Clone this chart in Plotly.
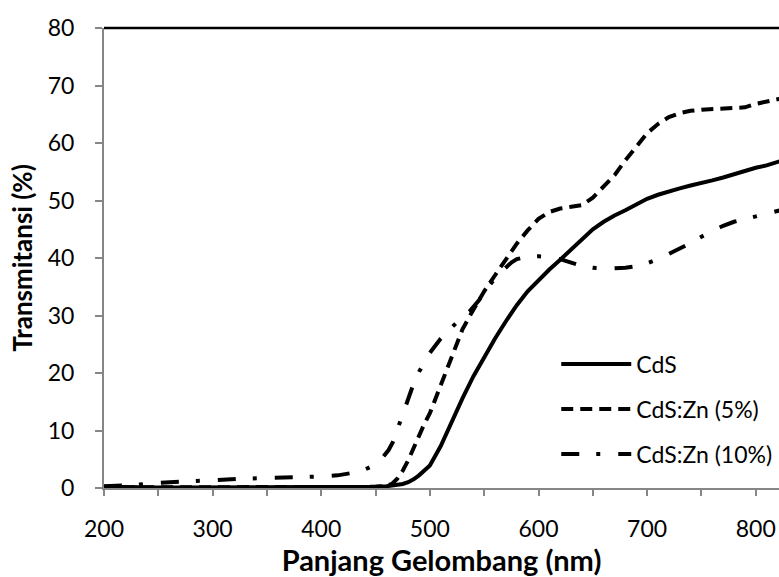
import plotly.graph_objects as go

# ---- data ----
wl_cds = [200, 225, 250, 275, 300, 325, 350, 375, 400, 425, 440, 450, 460, 465, 470, 475, 480, 485, 490, 495,
          500, 510, 520, 530, 540, 550, 560, 570, 580, 590, 600, 610, 620, 630, 640, 650, 660, 670, 680, 690,
          700, 710, 720, 730, 740, 750, 760, 770, 780, 790, 800, 810, 820, 825]
t_cds = [0.2, 0.1, 0.1, 0.1, 0.1, 0.1, 0.1, 0.1, 0.1, 0.1, 0.1, 0.2, 0.3, 0.4, 0.5, 0.7, 1.0, 1.5, 2.2, 3.0,
         3.9, 7.3, 11.6, 15.6, 19.4, 22.8, 26.0, 29.0, 31.8, 34.2, 36.2, 38.0, 39.7, 41.5, 43.3, 45.0, 46.3, 47.4, 48.3, 49.3,
         50.3, 51.0, 51.6, 52.1, 52.6, 53.0, 53.5, 54.0, 54.6, 55.1, 55.7, 56.1, 56.7, 57.0]

wl_zn5 = [200, 225, 250, 275, 300, 325, 350, 375, 400, 425, 440, 450, 460, 465, 470, 475, 480, 485, 490, 495,
          500, 510, 520, 530, 540, 550, 560, 570, 580, 590, 600, 610, 620, 630, 640, 650, 660, 670, 680, 690,
          700, 710, 720, 730, 740, 750, 760, 770, 780, 790, 800, 810, 820, 825]
t_zn5 = [0.1, 0.1, 0.1, 0.1, 0.1, 0.1, 0.1, 0.1, 0.1, 0.1, 0.1, 0.2, 0.4, 0.7, 1.6, 3.0, 4.8, 7.0, 9.2, 11.2,
         13.0, 17.8, 23.0, 27.6, 31.0, 34.2, 37.0, 39.8, 42.5, 44.8, 46.8, 48.0, 48.6, 48.9, 49.2, 50.5, 52.5, 54.4, 57.0, 59.3,
         61.7, 63.3, 64.5, 65.2, 65.6, 65.8, 65.9, 65.9, 66.0, 66.2, 66.8, 67.2, 67.6, 67.8]

wl_zn10 = [200, 225, 250, 275, 300, 325, 350, 375, 400, 415, 428, 440, 448, 457, 462, 466, 470, 474, 478, 484,
           490, 495, 500, 510, 520, 530, 537, 545, 555, 565, 575, 580, 590, 600, 610, 620, 630, 640, 650, 660,
           670, 680, 690, 700, 710, 720, 730, 740, 750, 760, 770, 780, 790, 800, 810, 820, 825]
t_zn10 = [0.3, 0.5, 0.9, 1.2, 1.35, 1.6, 1.7, 1.8, 2.0, 2.2, 2.6, 3.2, 3.9, 5.4, 6.6, 8.0, 10.2, 12.5, 14.8, 17.6,
          20.2, 22.0, 23.5, 26.0, 28.0, 29.8, 30.8, 32.6, 35.3, 37.5, 39.2, 39.8, 40.2, 40.3, 40.2, 39.8, 39.2, 38.6, 38.3, 38.2,
          38.2, 38.3, 38.6, 39.1, 39.8, 40.7, 41.6, 42.6, 43.7, 44.7, 45.6, 46.3, 46.8, 47.3, 47.8, 48.2, 48.4]

series_names = ["CdS", "CdS:Zn (5%)", "CdS:Zn (10%)"]
x_ticks = [200, 300, 400, 500, 600, 700, 800]
y_ticks = [0, 10, 20, 30, 40, 50, 60, 70, 80]

FONT = "Lato"
GREY = "#868686"

fig = go.Figure()
fig.add_trace(go.Scatter(x=wl_cds, y=t_cds, mode="lines", name=series_names[0], legendgroup="a",
                         line=dict(color="black", width=4, dash="solid")))
fig.add_trace(go.Scatter(x=wl_zn5, y=t_zn5, mode="lines", name=series_names[1], legendgroup="b",
                         line=dict(color="black", width=4, dash="12px,7px")))
fig.add_trace(go.Scatter(x=wl_zn10, y=t_zn10, mode="lines", name=series_names[2], legendgroup="c",
                         line=dict(color="black", width=4, dash="18px,17px,4px,18px")))

fig.update_layout(
    width=779, height=577,
    margin=dict(l=104, r=0, t=28, b=89),
    paper_bgcolor="white", plot_bgcolor="white",
    font=dict(family=FONT, size=23, color="black"),
    showlegend=True,
    legend=dict(x=0.67, y=0.316, xanchor="left", yanchor="top", bgcolor="rgba(0,0,0,0)",
                itemwidth=70, tracegroupgap=12, traceorder="grouped",
                font=dict(family=FONT, size=23, color="black")),
    shapes=[dict(type="line", xref="paper", yref="paper", x0=0, x1=1, y0=1, y1=1,
                 line=dict(color="black", width=2.5))],
)
fig.update_xaxes(
    range=[200, 821.4], tickvals=x_ticks, showgrid=False, zeroline=False,
    showline=True, linecolor=GREY, linewidth=2,
    ticks="outside", ticklen=6, tickwidth=1.5, tickcolor=GREY, ticklabelstandoff=13,
    minor=dict(dtick=50, ticks="outside", ticklen=6, tickwidth=1.5, tickcolor=GREY, showgrid=False),
    title=dict(text="<b>Panjang Gelombang (nm)</b>", font=dict(family=FONT, size=29), standoff=6),
)
fig.update_yaxes(
    range=[0, 80], tickvals=y_ticks, showgrid=False, zeroline=False,
    showline=True, linecolor=GREY, linewidth=2,
    ticks="outside", ticklen=7, tickwidth=1.5, tickcolor=GREY, ticklabelstandoff=16,
    title=dict(text="<b>Transmitansi (%)</b>", font=dict(family=FONT, size=26), standoff=8),
)

fig.write_html("out.html")
